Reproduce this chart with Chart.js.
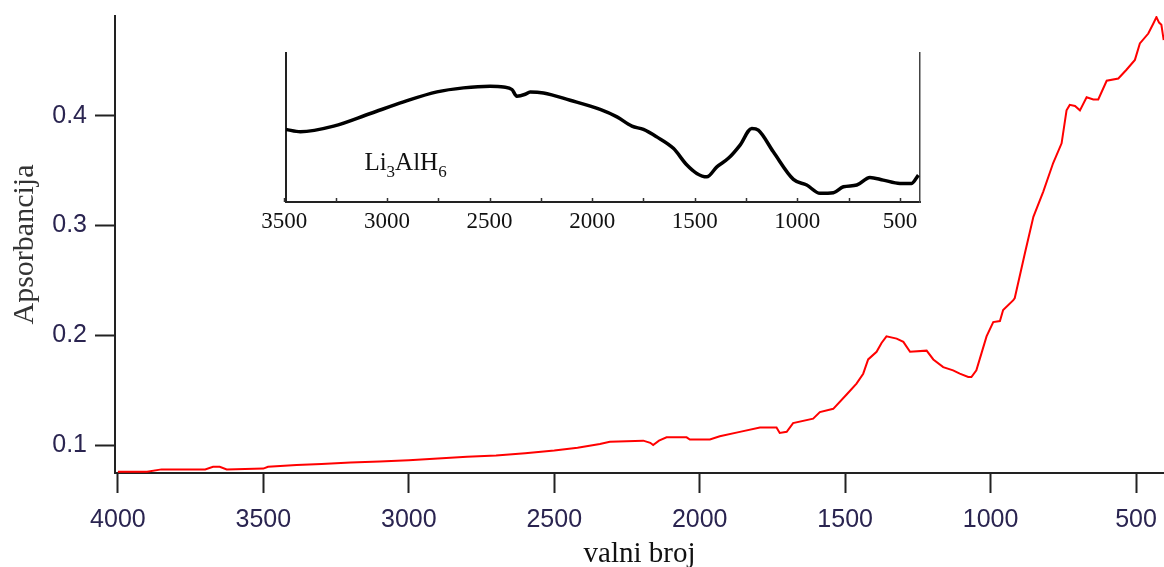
<!DOCTYPE html>
<html>
<head>
<meta charset="utf-8">
<script src="https://cdn.jsdelivr.net/npm/chart.js@4.4.1/dist/chart.umd.min.js"></script>
<style>
  html, body { margin: 0; padding: 0; background: #fff; overflow: hidden; }
  #wrap { position: relative; width: 1164px; height: 567px; }
  #mainChart { position: absolute; left: 0; top: 0; }
  #insetChart { position: absolute; left: 200px; top: 30px; }
</style>
</head>
<body>
<div id="wrap">
  <canvas id="mainChart" width="1164" height="567"></canvas>
  <canvas id="insetChart" width="760" height="220"></canvas>
</div>
<script>
// main spectrum (red)
const mainWavenumbers = [4000, 3900, 3850, 3700, 3673, 3650, 3626, 3500, 3484, 3386, 3300, 3200, 3100, 3000,
  2900, 2800, 2700, 2600, 2500, 2420, 2343, 2309, 2194, 2170, 2160, 2140, 2114, 2045, 2034, 1965, 1931,
  1862, 1793, 1736, 1725, 1701, 1679, 1610, 1587, 1541, 1495, 1461, 1438, 1421, 1392, 1375, 1358, 1323,
  1300, 1277, 1220, 1197, 1163, 1129, 1106, 1077, 1066, 1049, 1031, 1014, 991, 968, 957, 922, 917, 882,
  853, 819, 785, 756, 739, 728, 710, 693, 670, 647, 630, 601, 561, 533, 504, 487, 458, 441, 430, 421, 413, 405];
const mainAbsorbance = [0.0757, 0.0757, 0.0778, 0.0778, 0.0802, 0.0802, 0.0778, 0.0785, 0.0802, 0.0818, 0.0828,
  0.0840, 0.0850, 0.0862, 0.0878, 0.0892, 0.0905, 0.0925, 0.0950, 0.0975, 0.1009, 0.1030, 0.1040, 0.1020,
  0.1000, 0.1040, 0.1070, 0.1070, 0.1050, 0.1050, 0.1080, 0.1120, 0.1160, 0.1160, 0.1110, 0.1120, 0.1200,
  0.1240, 0.1300, 0.1330, 0.1460, 0.1560, 0.1650, 0.1780, 0.1850, 0.1930, 0.1990, 0.1970, 0.1940, 0.1850,
  0.1860, 0.1780, 0.1710, 0.1680, 0.1650, 0.1620, 0.1620, 0.1680, 0.1840, 0.1990, 0.2120, 0.2130, 0.2230,
  0.2320, 0.2340, 0.2750, 0.3080, 0.3310, 0.3570, 0.3750, 0.4050, 0.4100, 0.4090, 0.4050, 0.4170, 0.4150,
  0.4150, 0.4320, 0.4340, 0.4420, 0.4510, 0.4660, 0.4750, 0.4840, 0.4900, 0.4850, 0.4830, 0.4690];
const mainXTicks = [4000, 3500, 3000, 2500, 2000, 1500, 1000, 500];
const mainYTicks = [0.1, 0.2, 0.3, 0.4];

// inset spectrum (black, relative units)
const insetWavenumbers = [3492, 3422, 3260, 3081, 2919, 2756, 2627, 2497, 2432, 2391, 2367, 2326, 2302, 2237,
  2107, 1961, 1879, 1806, 1750, 1685, 1604, 1538, 1490, 1441, 1392, 1336, 1279, 1222, 1190, 1117, 1019,
  954, 889, 824, 775, 710, 646, 581, 500, 443, 410];
const insetSignal = [0.487, 0.471, 0.509, 0.594, 0.672, 0.739, 0.766, 0.777, 0.772, 0.755, 0.710, 0.723, 0.739,
  0.732, 0.683, 0.621, 0.571, 0.509, 0.487, 0.437, 0.360, 0.248, 0.192, 0.169, 0.236, 0.293, 0.382, 0.494,
  0.482, 0.337, 0.152, 0.114, 0.058, 0.062, 0.102, 0.114, 0.165, 0.147, 0.125, 0.125, 0.181];
const insetXTicks = [3500, 3000, 2500, 2000, 1500, 1000, 500];
const insetMinorTicks = [3500, 3250, 3000, 2750, 2500, 2250, 2000, 1750, 1500, 1250, 1000, 750, 500];

const tickColor = '#2a2450';

new Chart(document.getElementById('mainChart'), {
  type: 'line',
  data: {
    datasets: [{
      data: mainWavenumbers.map((w, i) => ({ x: w, y: mainAbsorbance[i] })),
      borderColor: '#ff0000',
      borderWidth: 2,
      pointRadius: 0,
      tension: 0,
      fill: false,
    }],
  },
  options: {
    responsive: false,
    animation: false,
    devicePixelRatio: 1,
    layout: { padding: { top: 16, right: 0, left: 0, bottom: 0 } },
    plugins: { legend: { display: false }, tooltip: { enabled: false } },
    scales: {
      x: {
        type: 'linear',
        reverse: true,
        min: 404,
        max: 4010,
        afterBuildTicks: (scale) => { scale.ticks = mainXTicks.map(v => ({ value: v })); },
        afterFit: (scale) => { scale.height = 94; scale.paddingLeft = 0; scale.paddingRight = 0; },
        grid: { drawOnChartArea: false, drawTicks: true, tickLength: 20, tickColor: '#222', tickWidth: 2 },
        border: { display: true, color: '#222', width: 2 },
        ticks: {
          color: tickColor,
          font: { family: "'Liberation Sans', Arial, sans-serif", size: 25 },
          padding: 12,
          maxRotation: 0,
          autoSkip: false,
          callback: (v) => String(v),
        },
        title: {
          display: true,
          text: 'valni broj',
          color: '#111',
          font: { family: "'Liberation Serif', 'Times New Roman', serif", size: 29, lineHeight: 1 },
          padding: { top: 0, bottom: -2 },
        },
      },
      y: {
        type: 'linear',
        min: 0.0745,
        max: 0.491,
        afterBuildTicks: (scale) => { scale.ticks = mainYTicks.map(v => ({ value: v })); },
        afterFit: (scale) => { scale.width = 115; scale.paddingTop = 0; scale.paddingBottom = 0; },
        grid: { drawOnChartArea: false, drawTicks: true, tickLength: 20, tickColor: '#222', tickWidth: 2 },
        border: { display: true, color: '#222', width: 2 },
        ticks: {
          color: tickColor,
          font: { family: "'Liberation Sans', Arial, sans-serif", size: 25 },
          padding: 8,
          autoSkip: false,
          callback: (v) => v.toFixed(1),
        },
        title: {
          display: true,
          text: 'Apsorbancija',
          color: '#333',
          font: { family: "'Liberation Serif', 'Times New Roman', serif", size: 30, lineHeight: 1 },
          padding: { top: 10, bottom: 0 },
        },
      },
    },
  },
});

// small inward tick marks and the compound label of the inset
const insetExtras = {
  id: 'insetExtras',
  afterDraw(chart) {
    const { ctx, scales: { x, y } } = chart;
    ctx.save();
    ctx.strokeStyle = '#333';
    ctx.lineWidth = 1.5;
    insetMinorTicks.forEach(v => {
      const px = Math.round(x.getPixelForValue(v)) + 0.5;
      ctx.beginPath();
      ctx.moveTo(px, y.bottom);
      ctx.lineTo(px, y.bottom - 4);
      ctx.stroke();
    });
    // Li3AlH6
    let px = x.getPixelForValue(3110);
    const py = y.getPixelForValue(0.214);
    ctx.fillStyle = '#111';
    ctx.textBaseline = 'alphabetic';
    const big = "25px 'Liberation Serif', 'Times New Roman', serif";
    const small = "17px 'Liberation Serif', 'Times New Roman', serif";
    [['Li', big, 0], ['3', small, 7], ['AlH', big, 0], ['6', small, 7]].forEach(([t, f, dy]) => {
      ctx.font = f;
      ctx.fillText(t, px, py + dy);
      px += ctx.measureText(t).width;
    });
    ctx.restore();
  },
};

new Chart(document.getElementById('insetChart'), {
  type: 'line',
  data: {
    datasets: [{
      data: insetWavenumbers.map((w, i) => ({ x: w, y: insetSignal[i] })),
      borderColor: '#000',
      borderWidth: 3.5,
      pointRadius: 0,
      cubicInterpolationMode: 'monotone',
      fill: false,
    }],
  },
  options: {
    responsive: false,
    animation: false,
    devicePixelRatio: 1,
    layout: { padding: { top: 23, right: 40, left: 0, bottom: 0 } },
    plugins: { legend: { display: false }, tooltip: { enabled: false } },
    scales: {
      x: {
        type: 'linear',
        reverse: true,
        min: 402,
        max: 3492,
        afterBuildTicks: (scale) => { scale.ticks = insetXTicks.map(v => ({ value: v })); },
        afterFit: (scale) => { scale.height = 48; },
        grid: { display: false },
        border: { display: true, color: '#222', width: 2 },
        ticks: {
          color: '#111',
          font: { family: "'Liberation Serif', 'Times New Roman', serif", size: 23 },
          padding: -2,
          maxRotation: 0,
          autoSkip: false,
          callback: (v) => String(v),
        },
      },
      y: {
        type: 'linear',
        min: 0,
        max: 1,
        afterFit: (scale) => { scale.width = 86; },
        grid: { display: false },
        border: { display: true, color: '#222', width: 2 },
        ticks: { display: false },
      },
      y2: {
        type: 'linear',
        position: 'right',
        min: 0,
        max: 1,
        afterFit: (scale) => { scale.width = 0; },
        grid: { display: false },
        border: { display: true, color: '#444', width: 1.5 },
        ticks: { display: false },
      },
    },
  },
  plugins: [insetExtras],
});
</script>
</body>
</html>
